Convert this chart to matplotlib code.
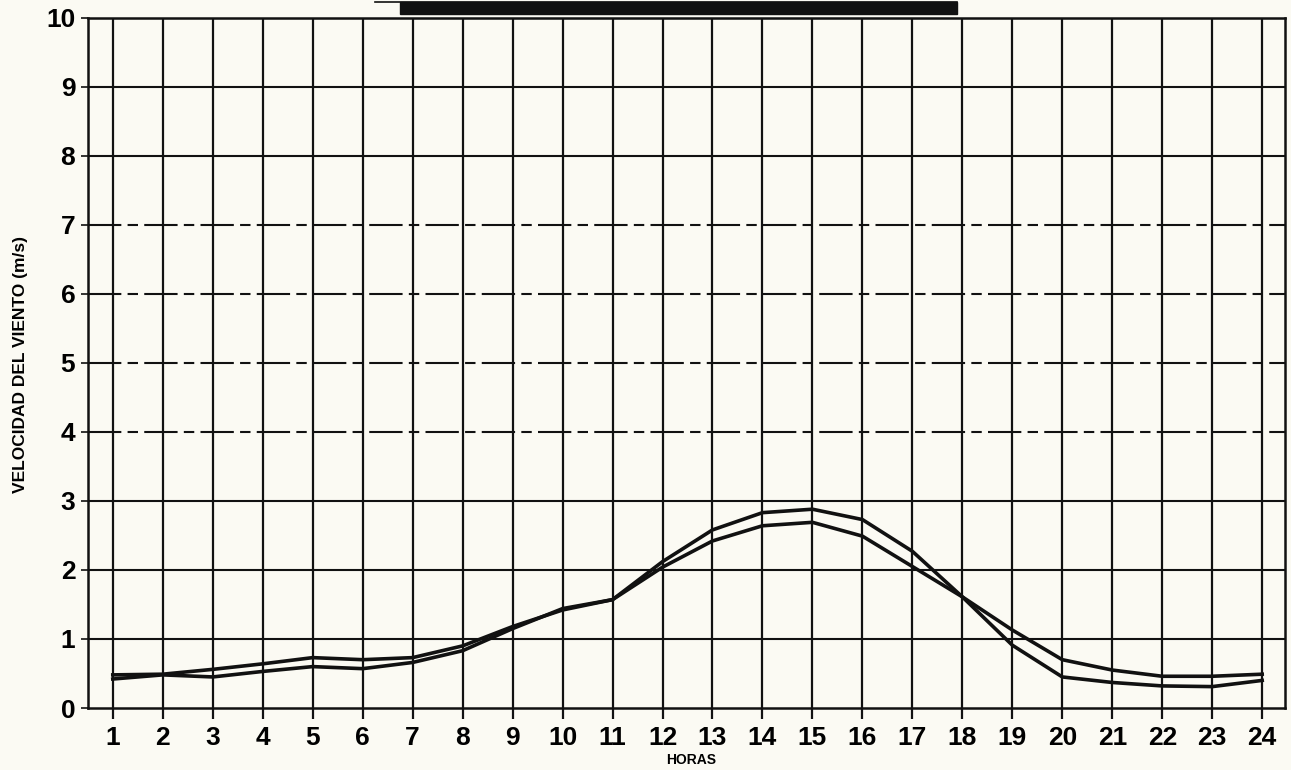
import numpy as np
import matplotlib.pyplot as plt
from matplotlib.patches import Rectangle

# horas del dia y velocidad media del viento (m/s), dos series
horas = list(range(1, 25))
serie_a = [0.42, 0.48, 0.45, 0.53, 0.60, 0.57, 0.66, 0.83, 1.15, 1.44, 1.57, 2.12,
           2.58, 2.83, 2.88, 2.73, 2.27, 1.61, 0.91, 0.45, 0.37, 0.32, 0.31, 0.40]
serie_b = [0.48, 0.49, 0.56, 0.64, 0.73, 0.70, 0.73, 0.90, 1.18, 1.42, 1.57, 2.04,
           2.42, 2.64, 2.69, 2.49, 2.05, 1.61, 1.13, 0.70, 0.55, 0.46, 0.46, 0.49]
y_ticks = list(range(0, 11))
dashed_levels = [4, 5, 6, 7]

plt.rcParams['font.family'] = ['Liberation Sans', 'DejaVu Sans']
bg = '#fbfaf3'
ink = '#111111'

fig = plt.figure(figsize=(12.91, 7.70), dpi=100, facecolor=bg)
ax = fig.add_axes([0.068, 0.0805, 0.9275, 0.8965], facecolor=bg)

ax.set_xlim(0.5, 24.46)
ax.set_ylim(0, 10)

# cuadricula
for h in horas:
    ax.axvline(h, color=ink, lw=1.6, zorder=1)
for y in y_ticks[1:]:
    if y in dashed_levels:
        ax.axhline(y, color=ink, lw=1.5, ls=(0, (16, 3, 5, 3)), zorder=1)
    else:
        ax.axhline(y, color=ink, lw=1.5, zorder=1)

ax.plot(horas, serie_a, color=ink, lw=2.6, zorder=3)
ax.plot(horas, serie_b, color=ink, lw=2.6, zorder=3)

for s in ax.spines.values():
    s.set_color(ink)
    s.set_linewidth(1.8)

ax.set_xticks(horas)
ax.set_yticks(y_ticks)
ax.tick_params(axis='x', length=8, width=1.6, color=ink, pad=5,
               labelsize=19)
ax.tick_params(axis='y', length=5, width=1.2, color=ink, pad=4,
               labelsize=19)
for lab in ax.get_xticklabels() + ax.get_yticklabels():
    lab.set_fontweight('bold')

fig.text(0.535, 0.004, 'HORAS', ha='center', va='bottom',
         fontsize=10, fontweight='bold')
fig.text(0.016, 0.527, 'VELOCIDAD DEL VIENTO (m/s)', rotation=90,
         ha='center', va='center', fontsize=12.5, fontweight='bold',
         family=['Liberation Sans Narrow', 'Liberation Sans', 'DejaVu Sans'])

# barra negra del titulo recortado
fig.patches.append(Rectangle((400 / 1291, 1 - 14 / 770), 557 / 1291, 12 / 770,
                             transform=fig.transFigure, color=ink))
fig.lines.append(plt.Line2D([375 / 1291, 957 / 1291], [1 - 1.5 / 770] * 2,
                            transform=fig.transFigure, color=ink, lw=1.2))

fig.savefig('out.png', dpi=100, facecolor=bg)
